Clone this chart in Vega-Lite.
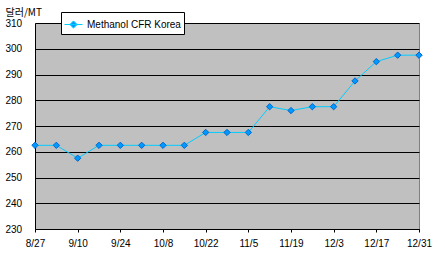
{
  "$schema": "https://vega.github.io/schema/vega-lite/v6.json",
  "autosize": "none",
  "width": 384,
  "height": 206,
  "padding": {"left": 35, "top": 23, "right": 26, "bottom": 30},
  "background": "white",
  "config": {
    "view": {"fill": "#C0C0C0", "stroke": "#808080", "strokeWidth": 1},
    "font": "Liberation Sans"
  },
  "data": {
    "values": [
      {"date": "8/27", "price": 262.5, "series": "Methanol CFR Korea"},
      {"date": "9/3", "price": 262.5, "series": "Methanol CFR Korea"},
      {"date": "9/10", "price": 257.5, "series": "Methanol CFR Korea"},
      {"date": "9/17", "price": 262.5, "series": "Methanol CFR Korea"},
      {"date": "9/24", "price": 262.5, "series": "Methanol CFR Korea"},
      {"date": "10/1", "price": 262.5, "series": "Methanol CFR Korea"},
      {"date": "10/8", "price": 262.5, "series": "Methanol CFR Korea"},
      {"date": "10/15", "price": 262.5, "series": "Methanol CFR Korea"},
      {"date": "10/22", "price": 267.5, "series": "Methanol CFR Korea"},
      {"date": "10/29", "price": 267.5, "series": "Methanol CFR Korea"},
      {"date": "11/5", "price": 267.5, "series": "Methanol CFR Korea"},
      {"date": "11/12", "price": 277.5, "series": "Methanol CFR Korea"},
      {"date": "11/19", "price": 276, "series": "Methanol CFR Korea"},
      {"date": "11/26", "price": 277.5, "series": "Methanol CFR Korea"},
      {"date": "12/3", "price": 277.5, "series": "Methanol CFR Korea"},
      {"date": "12/10", "price": 287.5, "series": "Methanol CFR Korea"},
      {"date": "12/17", "price": 295, "series": "Methanol CFR Korea"},
      {"date": "12/24", "price": 297.5, "series": "Methanol CFR Korea"},
      {"date": "12/31", "price": 297.5, "series": "Methanol CFR Korea"}
    ]
  },
  "encoding": {
    "x": {
      "field": "date",
      "type": "ordinal",
      "sort": null,
      "scale": {"type": "point", "padding": 0},
      "axis": {
        "title": null,
        "values": ["8/27", "9/10", "9/24", "10/8", "10/22", "11/5", "11/19", "12/3", "12/17", "12/31"],
        "labelAngle": 0,
        "labelFontSize": 10,
        "labelColor": "black",
        "labelPadding": 6,
        "tickColor": "black",
        "tickSize": 3,
        "domainColor": "black",
        "grid": false
      }
    },
    "y": {
      "field": "price",
      "type": "quantitative",
      "scale": {"domain": [230, 310], "nice": false, "zero": false},
      "axis": {
        "values": [230, 240, 250, 260, 270, 280, 290, 300, 310],
        "title": "달러/MT",
        "titleAngle": 0,
        "titleAlign": "left",
        "titleBaseline": "alphabetic",
        "titleX": -30,
        "titleY": -8,
        "titleFont": "Noto Sans CJK KR",
        "titleFontSize": 10,
        "titleFontWeight": "normal",
        "titleColor": "black",
        "labelFontSize": 10,
        "labelColor": "black",
        "labelAlign": "left",
        "labelPadding": 30,
        "tickSize": 0,
        "domainColor": "black",
        "grid": true,
        "gridColor": "black",
        "gridOpacity": 1,
        "gridWidth": 1
      }
    }
  },
  "layer": [
    {
      "mark": {"type": "line", "color": "#00CCFF", "strokeWidth": 1},
      "encoding": {
        "color": {
          "field": "series",
          "type": "nominal",
          "scale": {"range": ["#00CCFF"]},
          "legend": {
            "title": null,
            "orient": "none",
            "legendX": 26,
            "legendY": -11,
            "padding": 3,
            "fillColor": "white",
            "strokeColor": "black",
            "symbolType": "M-1,0L1,0M0,-0.4L0.4,0L0,0.4L-0.4,0Z",
            "symbolSize": 324,
            "symbolStrokeWidth": 1,
            "symbolStrokeColor": "#00CCFF",
            "symbolFillColor": "#0099FF",
            "labelFontSize": 10,
            "labelColor": "black",
            "labelOffset": 4
          }
        }
      }
    },
    {
      "mark": {"type": "point", "shape": "diamond", "filled": true, "size": 40, "fill": "#0099FF", "stroke": "#0066CC", "strokeWidth": 1, "opacity": 1}
    }
  ]
}
